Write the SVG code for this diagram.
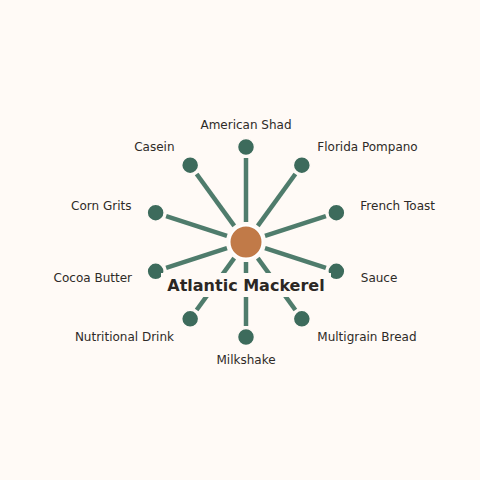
<svg xmlns="http://www.w3.org/2000/svg" width="480" height="480" viewBox="0 0 480 480">
<style>
.edge{stroke:#4f7c6c;stroke-width:4.5;stroke-linecap:butt;fill:none}
.leaf{fill:#3d6b5c;stroke:#fffaf6;stroke-width:1.5}
.hub{fill:#c17a48;stroke:#ffffff;stroke-width:2}
.lbl{font-family:"DejaVu Sans",sans-serif;font-size:12px;fill:#2e2a27}
.title{font-family:"DejaVu Sans",sans-serif;font-size:16px;font-weight:bold;fill:#2b2724}
</style>
<rect width="480" height="480" fill="#fffaf6"/>
<g id="connectors">
<line class="edge" x1="246" y1="222" x2="246" y2="158"/>
<line class="edge" x1="257.76" y1="225.82" x2="295.38" y2="174.04"/>
<line class="edge" x1="265.02" y1="235.82" x2="325.89" y2="216.04"/>
<line class="edge" x1="265.02" y1="248.18" x2="325.89" y2="267.96"/>
<line class="edge" x1="257.76" y1="258.18" x2="295.38" y2="309.96"/>
<line class="edge" x1="246" y1="262" x2="246" y2="326"/>
<line class="edge" x1="234.24" y1="258.18" x2="196.62" y2="309.96"/>
<line class="edge" x1="226.98" y1="248.18" x2="166.11" y2="267.96"/>
<line class="edge" x1="226.98" y1="235.82" x2="166.11" y2="216.04"/>
<line class="edge" x1="234.24" y1="225.82" x2="196.62" y2="174.04"/>
</g>
<g id="node-american-shad"><circle class="leaf" cx="246" cy="147" r="8.5"/><text class="lbl" x="246" y="128.5" text-anchor="middle">American Shad</text></g>
<g id="node-florida-pompano"><circle class="leaf" cx="301.84" cy="165.14" r="8.5"/><text class="lbl" x="317.3" y="151" text-anchor="start">Florida Pompano</text></g>
<g id="node-french-toast"><circle class="leaf" cx="336.35" cy="212.64" r="8.5"/><text class="lbl" x="360.3" y="210" text-anchor="start">French Toast</text></g>
<g id="node-sauce"><circle class="leaf" cx="336.35" cy="271.36" r="8.5"/><text class="lbl" x="360.8" y="282" text-anchor="start">Sauce</text></g>
<g id="node-multigrain-bread"><circle class="leaf" cx="301.84" cy="318.86" r="8.5"/><text class="lbl" x="317.3" y="341" text-anchor="start">Multigrain Bread</text></g>
<g id="node-milkshake"><circle class="leaf" cx="246" cy="337" r="8.5"/><text class="lbl" x="246" y="364" text-anchor="middle">Milkshake</text></g>
<g id="node-nutritional-drink"><circle class="leaf" cx="190.16" cy="318.86" r="8.5"/><text class="lbl" x="174" y="341" text-anchor="end">Nutritional Drink</text></g>
<g id="node-cocoa-butter"><circle class="leaf" cx="155.65" cy="271.36" r="8.5"/><text class="lbl" x="132" y="282" text-anchor="end">Cocoa Butter</text></g>
<g id="node-corn-grits"><circle class="leaf" cx="155.65" cy="212.64" r="8.5"/><text class="lbl" x="131.5" y="210" text-anchor="end">Corn Grits</text></g>
<g id="node-casein"><circle class="leaf" cx="190.16" cy="165.14" r="8.5"/><text class="lbl" x="174.5" y="151" text-anchor="end">Casein</text></g>
<g id="node-atlantic-mackerel">
<circle class="hub" cx="246" cy="242" r="16.5"/>
<rect x="161" y="273" width="170" height="24" fill="#fffaf6"/>
<text class="title" x="246" y="291" text-anchor="middle">Atlantic Mackerel</text>
</g>
</svg>
